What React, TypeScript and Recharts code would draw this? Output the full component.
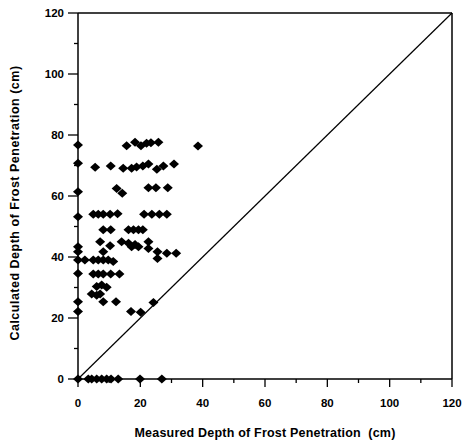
import React from "react";
import {
  ScatterChart,
  Scatter,
  XAxis,
  YAxis,
  ReferenceLine,
} from "recharts";

// --- Data ---
const measured = [
  0, 0, 0, 0, 0, 0, 0, 0, 0, 0, 0,
  15.6, 18.3, 20.2, 22, 23.4, 25.8, 38.5,
  5.5, 10.5, 14.5, 17.2, 18.8, 20.8, 22.6, 25.3, 27.4, 30.8,
  12.4, 14.2, 22.6, 25, 28.8,
  4.9, 6.5, 8.1, 10.3, 12.7, 21.2, 23.7, 26.1, 28.5,
  8.1, 10.5, 16.2, 17.8, 19.4, 20.8,
  7.1, 10.3, 8.1, 14, 16.2, 17.2, 18.3, 19.4, 22.6, 22.6, 25.5, 25.5, 28.5, 31.5,
  2.2, 4.9, 6.5, 8.1, 9.7, 11.3,
  4.9, 6.5, 8.1, 10.5, 13.3,
  6, 7.6, 9.2, 4.4, 6, 7.1, 8.1, 12.2, 17, 20.1, 24.2,
  3.3, 4.4, 6, 7.6, 9.2, 10.6, 12.9, 19.9, 26.9,
];
const calculated = [
  76.7, 70.7, 61.4, 53.2, 43.4, 41.7, 39, 34.6, 25.3, 22.1, 0,
  76.5, 77.6, 76.5, 77.3, 77.5, 77.6, 76.4,
  69.4, 69.8, 69.1, 69.1, 69.5, 69.8, 70.5, 68.8, 69.8, 70.5,
  62.5, 60.9, 62.7, 62.7, 62.7,
  54, 54, 54, 54, 54.2, 54, 54, 54, 54,
  48.9, 48.9, 48.9, 48.9, 48.9, 48.9,
  45, 43.7, 41.7, 45, 44.5, 43.4, 44.1, 43.4, 45, 42.8, 41.7, 39.5, 41.2, 41.2,
  39, 39, 39, 39, 39, 38.5,
  34.4, 34.4, 34.4, 34.4, 34.4,
  30.3, 30.8, 30.1, 27.9, 27.5, 27.9, 25.3, 25.3, 22.1, 21.9, 25.1,
  0, 0, 0, 0, 0, 0, 0, 0, 0,
];

const majorTicks = [0, 20, 40, 60, 80, 100, 120];
const allTicks = [0, 10, 20, 30, 40, 50, 60, 70, 80, 90, 100, 110, 120];

const xTitle = "Measured Depth of Frost Penetration\u00a0 (cm)";
const yTitle = "Calculated Depth of Frost Penetration (cm)";

const points = measured.map((m, i) => ({ x: m, y: calculated[i] }));

const font = "'Liberation Sans', Arial, sans-serif";

// --- tick renderers ---
const LeftTick = (props: any) => {
  const { x, y, payload } = props;
  const major = payload.value % 20 === 0;
  return (
    <g>
      <line x1={x - (major ? 10 : 4)} x2={x} y1={y} y2={y} stroke="#000" strokeWidth={1.3} />
      {major && (
        <text x={x - 14} y={y} dy={4} textAnchor="end" fontFamily={font} fontWeight="bold" fontSize={11.5} fill="#000">
          {payload.value}
        </text>
      )}
    </g>
  );
};

const BottomTick = (props: any) => {
  const { x, y, payload } = props;
  const major = payload.value % 20 === 0;
  return (
    <g>
      <line x1={x} x2={x} y1={y} y2={y + (major ? 8 : 4)} stroke="#000" strokeWidth={1.3} />
      {major && (
        <text x={x} y={y + 28} textAnchor="middle" fontFamily={font} fontWeight="bold" fontSize={11.5} fill="#000">
          {payload.value}
        </text>
      )}
    </g>
  );
};

const TopTick = (props: any) => {
  const { x, y } = props;
  return <line x1={x} x2={x} y1={y} y2={y + 5} stroke="#000" strokeWidth={1.2} />;
};

const RightTick = (props: any) => {
  const { x, y } = props;
  return <line x1={x - 5} x2={x} y1={y} y2={y} stroke="#000" strokeWidth={1.2} />;
};

const Diamond = (props: any) => {
  const { cx, cy } = props;
  return (
    <polygon
      points={`${cx - 5},${cy} ${cx},${cy - 4.5} ${cx + 5},${cy} ${cx},${cy + 4.5}`}
      fill="#000"
    />
  );
};

export default function App() {
  return (
    <div style={{ position: "absolute", left: 0, top: 0, background: "#fff" }}>
      <ScatterChart width={466} height={448} margin={{ top: 0, right: 0, bottom: 0, left: 0 }}>
        <XAxis
          type="number"
          dataKey="x"
          domain={[0, 120]}
          ticks={allTicks}
          interval={0}
          height={69}
          tickSize={0}
          tickMargin={0}
          tickLine={false}
          tick={<BottomTick />}
          axisLine={{ stroke: "#000", strokeWidth: 1.5 }}
          label={() => (
            <text x={265} y={437} textAnchor="middle" fontFamily={font} fontWeight="bold" fontSize={12.5} letterSpacing={0.2} fill="#000">
              {xTitle}
            </text>
          )}
        />
        <XAxis
          xAxisId="top"
          orientation="top"
          type="number"
          domain={[0, 120]}
          ticks={majorTicks}
          interval={0}
          height={13}
          tickSize={0}
          tickMargin={0}
          tickLine={false}
          tick={<TopTick />}
          axisLine={{ stroke: "#000", strokeWidth: 1.5 }}
        />
        <YAxis
          type="number"
          dataKey="y"
          domain={[0, 120]}
          ticks={allTicks}
          interval={0}
          width={78}
          tickSize={0}
          tickMargin={0}
          tickLine={false}
          tick={<LeftTick />}
          axisLine={{ stroke: "#000", strokeWidth: 1.5 }}
          label={() => (
            <text
              x={15}
              y={203}
              transform="rotate(-90 15 203)"
              dy={4}
              textAnchor="middle"
              fontFamily={font}
              fontWeight="bold"
              fontSize={12.5}
              letterSpacing={0.5}
              fill="#000"
            >
              {yTitle}
            </text>
          )}
        />
        <YAxis
          yAxisId="right"
          orientation="right"
          type="number"
          domain={[0, 120]}
          ticks={majorTicks}
          interval={0}
          width={14}
          tickSize={0}
          tickMargin={0}
          tickLine={false}
          tick={<RightTick />}
          axisLine={{ stroke: "#000", strokeWidth: 1.5 }}
        />
        <ReferenceLine
          segment={[{ x: 0, y: 0 }, { x: 120, y: 120 }]}
          stroke="#000"
          strokeWidth={1.2}
        />
        <Scatter data={points} fill="#000" shape={<Diamond />} isAnimationActive={false} />
      </ScatterChart>
    </div>
  );
}
